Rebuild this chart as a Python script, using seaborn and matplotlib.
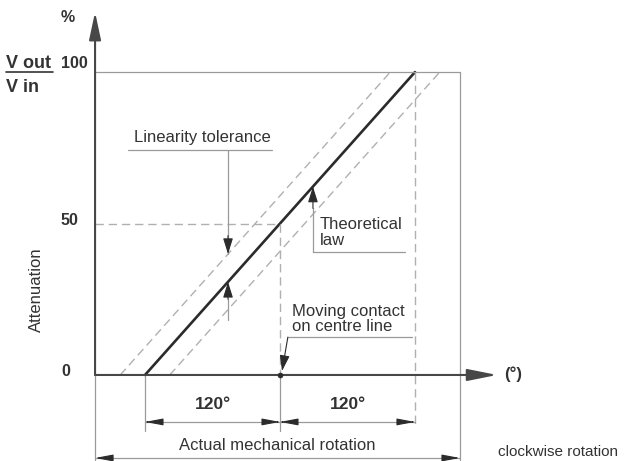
import matplotlib
matplotlib.use("Agg")
import matplotlib.pyplot as plt
import seaborn as sns
import pandas as pd

# Potentiometer transfer characteristic
angle = [0, 240]                 # electrical travel, degrees
attenuation = [0, 100]           # Vout / Vin, %
tolerance = 22                   # linearity band, degrees either side
centre_angle = 120               # moving contact on centre line
y_ticks = [0, 50, 100]
span_labels = ["120°", "120°"]

sns.set_theme(style="white")
plt.rcParams["font.family"] = ["Liberation Sans", "DejaVu Sans"]

DARK = "#2b2b2b"
AXIS = "#474747"
TEXT = "#333333"
GREY = "#9a9a9a"
DASH = "#b0b0b0"
FS = 12

fig = plt.figure(figsize=(6.25, 4.61), dpi=100)
ax = fig.add_axes([0, 0, 1, 1])
ax.set_xlim(-128.9, 426.7)
ax.set_ylim(-28.4, 123.8)
ax.axis("off")

x_axis = -44.4      # position of the attenuation axis
x_mech = 280        # right end of mechanical rotation
x_arrow = 313       # tip of the angle axis
dash = (0, (6, 3.5))

df = pd.DataFrame({"angle": angle, "att": attenuation})
band = pd.DataFrame({
    "angle": [a - tolerance for a in angle] + [a + tolerance for a in angle],
    "att": attenuation * 2,
    "side": ["low"] * 2 + ["high"] * 2,
})

# tolerance band
sns.lineplot(data=band, x="angle", y="att", units="side", estimator=None,
             color=DASH, lw=1.0, linestyle=dash, ax=ax, legend=False)
# theoretical law
sns.lineplot(data=df, x="angle", y="att", color=DARK, lw=1.9, ax=ax,
             estimator=None)

# frame and guide lines
ax.plot([x_axis, x_mech], [100, 100], color=GREY, lw=0.9)
ax.plot([x_mech, x_mech], [100, -28.0], color=GREY, lw=0.9)
ax.plot([x_axis, x_axis], [0, -28.0], color=GREY, lw=0.9)
ax.plot([angle[1], angle[1]], [100, -17.5], color=DASH, lw=1.0, linestyle=dash)
ax.plot([x_axis, centre_angle], [50, 50], color=DASH, lw=1.0, linestyle=dash)
ax.plot([centre_angle, centre_angle], [50, 0], color=DASH, lw=1.0,
        linestyle=dash)
ax.plot([angle[0], angle[0]], [0, -18.5], color=GREY, lw=0.9)
ax.plot([centre_angle, centre_angle], [0, -18.5], color=GREY, lw=0.9)

# axes with arrow heads
ax.annotate("", xy=(x_axis, 119.8), xytext=(x_axis, 0),
            arrowprops=dict(arrowstyle="-|>,head_length=1.4,head_width=0.3",
                            color=AXIS, lw=1.5, shrinkA=0, shrinkB=0))
ax.annotate("", xy=(x_arrow, 0), xytext=(x_axis, 0),
            arrowprops=dict(arrowstyle="-|>,head_length=1.5,head_width=0.3",
                            color=AXIS, lw=1.5, shrinkA=0, shrinkB=0))

sns.scatterplot(x=[centre_angle], y=[0], color=DARK, s=14, ax=ax,
                edgecolor=DARK, zorder=5)

head = dict(arrowstyle="-|>,head_length=0.9,head_width=0.17",
            color=DARK, lw=0.8, shrinkA=0, shrinkB=0)


def dimension(a, b, y):
    """Dimension line between a and b with arrow heads at both ends."""
    ax.plot([a, b], [y, y], color=GREY, lw=0.9)
    for tip, tail in ((a, b), (b, a)):
        ax.annotate("", xy=(tip, y), xytext=(tip + (tail - tip) * 0.02, y),
                    arrowprops=head)


# 120° spans
edges = [angle[0], centre_angle, angle[1]]
for i, lab in enumerate(span_labels):
    a, b = edges[i], edges[i + 1]
    dimension(a, b, -15.5)
    ax.text((a + b) / 2, -9.9, lab, ha="center", va="center",
            fontsize=12.5, fontweight="bold", color=TEXT)

# mechanical rotation span
dimension(x_axis, x_mech, -27.4)
ax.text(118, -23.4, "Actual mechanical rotation", ha="center", va="center",
        fontsize=FS, color=TEXT)
ax.text(313.8, -25.4, "clockwise rotation", ha="left", va="center",
        fontsize=11, color=TEXT)
ax.text(319, 0.3, "(°)", ha="left", va="center", fontsize=12,
        fontweight="bold", color=TEXT)

# attenuation axis labels
for v in y_ticks:
    dy = 3.0 if v == max(y_ticks) else 1.0
    ax.text(-74.7, v + dy, str(v), ha="left", va="center", fontsize=11.5,
            fontweight="bold", color=TEXT)
ax.text(-68.9, 118, "%", ha="center", va="center", fontsize=11.5,
        fontweight="bold", color=TEXT)
ax.text(-123.5, 103, "V out", ha="left", va="center", fontsize=13,
        fontweight="bold", color=TEXT)
ax.plot([-123.5, -81.5], [100, 100], color=TEXT, lw=1.2)
ax.text(-123.5, 95, "V in", ha="left", va="center", fontsize=13,
        fontweight="bold", color=TEXT)
ax.text(-96.5, 28, "Attenuation", rotation=90, ha="center", va="center",
        fontsize=FS, color=TEXT)

leader = dict(arrowstyle="-|>,head_length=0.8,head_width=0.25",
              color=DARK, lw=0.8, shrinkA=0, shrinkB=0)

# linearity tolerance callout
xt = 73.8
ax.text(50.7, 78.5, "Linearity tolerance", ha="center", va="center",
        fontsize=FS, color=TEXT)
ax.plot([-15.1, 112.9], [74.3, 74.3], color=GREY, lw=0.9)
ax.plot([xt, xt], [74.3, 40.0], color=GREY, lw=0.9)
ax.annotate("", xy=(xt, (xt + tolerance) * 100 / 240), xytext=(xt, 46),
            arrowprops=leader)
ax.plot([xt, xt], [18.2, 25.0], color=GREY, lw=0.9)
ax.annotate("", xy=(xt, xt * 100 / 240), xytext=(xt, 25.0),
            arrowprops=leader)

# theoretical law callout
xl = 149.3
ax.text(155.6, 49.8, "Theoretical", ha="left", va="center",
        fontsize=FS, color=TEXT)
ax.text(155.6, 44.4, "law", ha="left", va="center",
        fontsize=FS, color=TEXT)
ax.plot([xl, 231], [40.6, 40.6], color=GREY, lw=0.9)
ax.plot([xl, xl], [40.6, 55], color=GREY, lw=0.9)
ax.annotate("", xy=(xl, xl * 100 / 240), xytext=(xl, 55),
            arrowprops=leader)

# moving contact callout
ax.text(130.7, 21.0, "Moving contact", ha="left", va="center",
        fontsize=FS, color=TEXT)
ax.text(130.7, 16.0, "on centre line", ha="left", va="center",
        fontsize=FS, color=TEXT)
ax.plot([127, 237], [12.5, 12.5], color=GREY, lw=0.9)
ax.annotate("", xy=(121.8, 1.3), xytext=(127, 12.5), arrowprops=leader)

fig.savefig("out.png", dpi=100, facecolor="white")
